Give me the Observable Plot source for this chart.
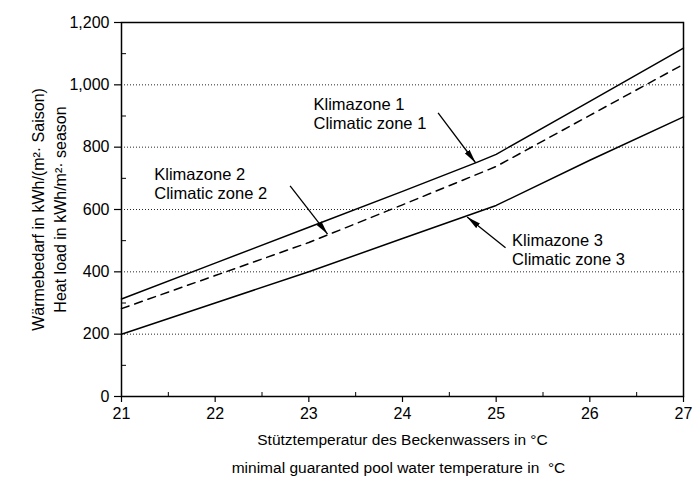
<!DOCTYPE html>
<html><head><meta charset="utf-8">
<script src="https://cdn.jsdelivr.net/npm/d3@7"></script>
<script src="https://cdn.jsdelivr.net/npm/@observablehq/plot@0.6"></script>
<style>html,body{margin:0;padding:0;background:#fff} svg{display:block}</style>
</head><body><div id="chart"></div>
<script>
// ---- data ----
const zone1T = [21, 22, 23, 24, 24.8, 25, 26, 27];
const zone1  = [313, 428, 543, 658, 752, 777, 947, 1118];
const zoneT  = [21, 22, 23, 24, 25, 26, 27];
const zone2  = [282, 388, 494, 615, 738, 902, 1066];
const zone3  = [200, 300, 400, 507, 613, 758, 897];

const yTicks = [0, 200, 400, 600, 800, 1000, 1200];
const yMinor = [100, 300, 500, 700, 900, 1100];
const gridValues = [200, 400, 600, 800, 1000];
const xTicks = [21, 22, 23, 24, 25, 26, 27];
const xMinor = [21.5, 22.5, 23.5, 24.5, 25.5, 26.5];

const labelText = ["Klimazone 1\nClimatic zone 1", "Klimazone 2\nClimatic zone 2", "Klimazone 3\nClimatic zone 3"];
const labelX = [23.05, 21.35, 25.17];
const labelY = [907, 684, 472];
const arrowX1 = [24.38, 22.80, 25.10];
const arrowY1 = [910, 676, 477];
const arrowX2 = [24.78, 23.20, 24.69];
const arrowY2 = [750, 521, 576];

const xTitle = ["Stütztemperatur des Beckenwassers in °C", "minimal guaranted pool water temperature in  °C"];
const yTitle = ["Wärmebedarf in kWh/(m²· Saison)", "Heat load in kWh/m²· season"];

// ---- tables ----
const line1 = zone1T.map((t, i) => ({t, v: zone1[i]}));
const line2 = zoneT.map((t, i) => ({t, v: zone2[i]}));
const line3 = zoneT.map((t, i) => ({t, v: zone3[i]}));
const idx3 = [0, 1, 2];

const font = "'Liberation Sans', Arial, Helvetica, sans-serif";
const fmt = d3.format(",");

const chart = Plot.plot({
  width: 695, height: 483,
  marginLeft: 121, marginRight: 12, marginTop: 22, marginBottom: 87,
  style: {fontFamily: font, fontSize: "16px", color: "#000", background: "#fff"},
  x: {domain: [21, 27]},
  y: {domain: [0, 1200]},
  marks: [
    Plot.gridY(gridValues, {stroke: "#000", strokeOpacity: 0.85, strokeDasharray: "1,2", strokeWidth: 1}),
    Plot.axisY(yTicks, {tickSize: 7, tickPadding: 5, tickFormat: fmt, fontSize: 16, label: null, strokeWidth: 1.2}),
    Plot.axisY(yMinor, {tickSize: -5, tickFormat: () => "", label: null}),
    Plot.axisX(xTicks, {tickSize: 6, tickPadding: 5, fontSize: 16, label: null, strokeWidth: 1.2}),
    Plot.axisX(xMinor, {tickSize: -4, tickFormat: () => "", label: null}),
    Plot.frame({stroke: "#000", strokeWidth: 1.5}),
    Plot.line(line1, {x: "t", y: "v", stroke: "#000", strokeWidth: 1.5}),
    Plot.line(line2, {x: "t", y: "v", stroke: "#000", strokeWidth: 1.5, strokeDasharray: "8,6"}),
    Plot.line(line3, {x: "t", y: "v", stroke: "#000", strokeWidth: 1.5}),
    Plot.link(idx3, {x1: i => arrowX1[i], y1: i => arrowY1[i], x2: i => arrowX2[i], y2: i => arrowY2[i], stroke: "#000", strokeWidth: 1.3, markerEnd: "arrow"}),
    Plot.text(idx3, {x: i => labelX[i], y: i => labelY[i], text: i => labelText[i], textAnchor: "start", lineAnchor: "middle", lineHeight: 1.15, fontSize: 16.5, fill: "#000"}),
    Plot.text([xTitle[0]], {text: d => d, frameAnchor: "bottom", textAnchor: "middle", dy: 44, lineAnchor: "middle", fontSize: 15.5, fill: "#000"}),
    Plot.text([xTitle[1]], {text: d => d, frameAnchor: "bottom", textAnchor: "middle", dy: 72, dx: -4, lineAnchor: "middle", fontSize: 15.5, fill: "#000"}),
    Plot.text([yTitle[0]], {text: d => d, frameAnchor: "left", textAnchor: "middle", rotate: -90, dx: -83, lineAnchor: "middle", fontSize: 16, fill: "#000"}),
    Plot.text([yTitle[1]], {text: d => d, frameAnchor: "left", textAnchor: "middle", rotate: -90, dx: -61, lineAnchor: "middle", fontSize: 16, fill: "#000"})
  ]
});

chart.querySelectorAll("marker").forEach(m => {
  m.setAttribute("viewBox", "-14 -3.5 14 7");
  m.setAttribute("markerWidth", 14);
  m.setAttribute("markerHeight", 7);
  m.setAttribute("markerUnits", "userSpaceOnUse");
  m.setAttribute("refX", 0);
  m.setAttribute("refY", 0);
  m.setAttribute("fill", "#000");
  m.setAttribute("stroke", "none");
  const p = m.querySelector("path");
  if (p) p.setAttribute("d", "M-14,-3L0,0L-14,3Z");
});

document.getElementById("chart").appendChild(chart);
</script>
</body></html>
